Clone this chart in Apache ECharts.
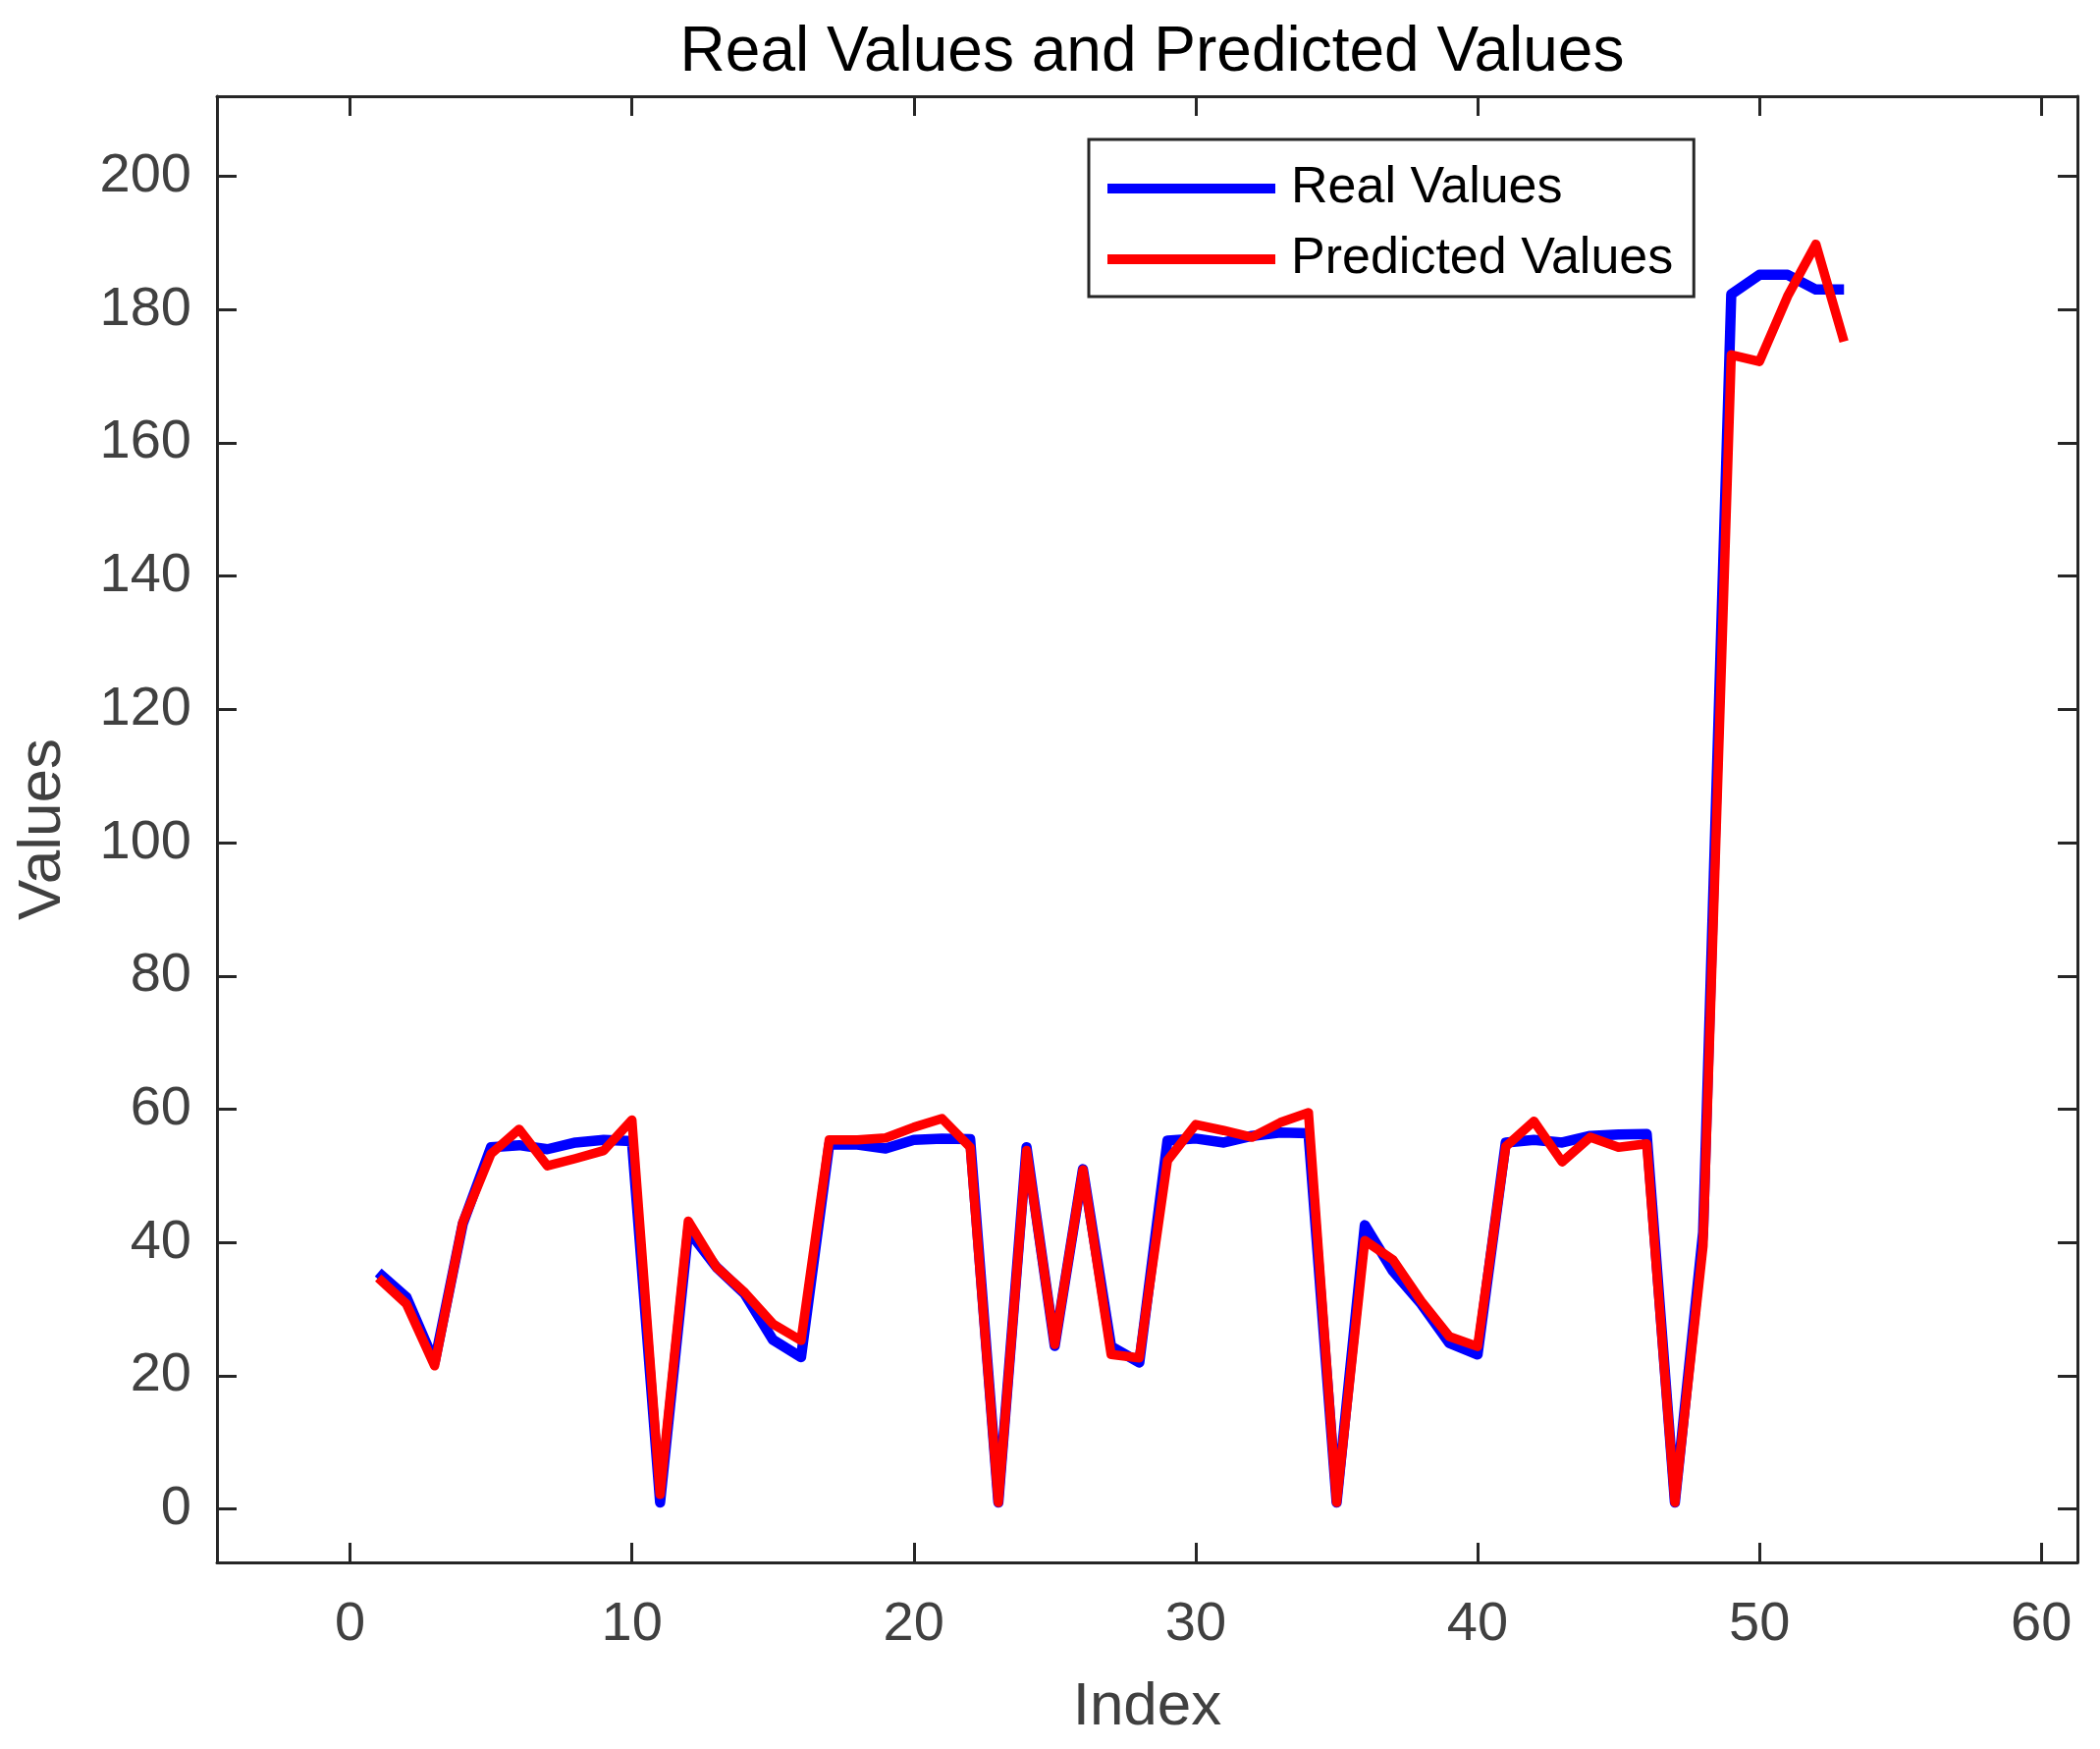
<!DOCTYPE html>
<html>
<head>
<meta charset="utf-8">
<script src="https://cdn.jsdelivr.net/npm/echarts@6/dist/echarts.min.js"></script>
<style>
html,body{margin:0;padding:0;background:#fff;}
#chart{width:2139px;height:1781px;}
</style>
</head>
<body>
<div id="chart"></div>
<script>
var indices = [1,2,3,4,5,6,7,8,9,10,11,12,13,14,15,16,17,18,19,20,21,22,23,24,25,26,27,28,29,30,31,32,33,34,35,36,37,38,39,40,41,42,43,44,45,46,47,48,49,50,51,52,53];
var realValues = [35.5,31.8,22.0,42.8,54.3,54.6,54.0,55.0,55.4,55.2,1.0,41.8,36.3,32.3,25.4,22.8,54.7,54.7,54.1,55.4,55.6,55.5,1.0,54.3,24.5,51.0,24.4,22.0,55.3,55.6,55.0,56.0,56.5,56.4,1.0,42.6,35.7,30.8,24.9,23.2,55.0,55.4,55.0,56.0,56.2,56.3,1.0,41.5,182.3,185.2,185.2,183.0,183.0];
var predictedValues = [34.7,30.8,21.5,43.0,53.3,57.0,51.5,52.6,53.8,58.4,2.2,43.2,36.3,32.5,27.8,25.3,55.4,55.4,55.7,57.3,58.6,54.3,1.0,53.8,24.7,50.9,23.2,22.7,52.3,57.7,56.8,55.8,58.0,59.5,1.0,40.3,37.4,31.2,25.9,24.4,54.4,58.2,52.1,55.8,54.3,54.8,1.0,39.5,173.2,172.2,182.0,189.8,175.2];
var xTicks = [0,10,20,30,40,50,60];
var yTicks = [0,20,40,60,80,100,120,140,160,180,200];
var seriesNames = ['Real Values','Predicted Values'];
var titleText = 'Real Values and Predicted Values';
var xName = 'Index';
var yName = 'Values';

var FONT = '"Liberation Sans", Arial, Helvetica, sans-serif';
var AXC = '#262626';
var TXC = '#404040';
var XMIN = -4.72, XMAX = 61.28, YMIN = -8, YMAX = 212;

function pairs(vals){ return indices.map(function(x,i){ return [x, vals[i]]; }); }

var chart = echarts.init(document.getElementById('chart'), null, {renderer:'canvas'});
var tickStyle = {show:true, inside:true, length:20, lineStyle:{color:AXC, width:3}};
chart.setOption({
  animation:false,
  backgroundColor:'#fff',
  title:{
    text:titleText, left:1168.5, top:17, textAlign:'center',
    textStyle:{fontFamily:FONT, fontSize:64, fontWeight:'normal', color:'#000', lineHeight:64}
  },
  legend:{
    orient:'vertical', left:1109, top:142,
    padding:[24,21,12,19], itemGap:20,
    itemWidth:171, itemHeight:10, icon:'rect',
    borderColor:AXC, borderWidth:3, backgroundColor:'#fff',
    textStyle:{fontFamily:FONT, fontSize:52, color:'#000', padding:[0,0,0,11], lineHeight:52},
    data:seriesNames
  },
  grid:{left:221, right:23, top:98, bottom:190, containLabel:false},
  xAxis:[{
    type:'value', min:XMIN, max:XMAX, position:'bottom',
    name:xName, nameLocation:'middle', nameGap:117,
    nameTextStyle:{fontFamily:FONT, fontSize:62, color:TXC},
    axisLine:{show:true, onZero:false, lineStyle:{color:AXC, width:3}},
    axisTick:Object.assign({customValues:xTicks}, tickStyle),
    axisLabel:{customValues:xTicks, margin:36, fontFamily:FONT, fontSize:56, color:TXC},
    splitLine:{show:false}
  },{
    type:'value', min:XMIN, max:XMAX, position:'top',
    axisLine:{show:true, onZero:false, lineStyle:{color:AXC, width:3}},
    axisTick:Object.assign({customValues:xTicks}, tickStyle),
    axisLabel:{show:false, customValues:xTicks},
    splitLine:{show:false}
  }],
  yAxis:[{
    type:'value', min:YMIN, max:YMAX, position:'left',
    name:yName, nameLocation:'middle', nameGap:146, nameRotate:90,
    nameTextStyle:{fontFamily:FONT, fontSize:62, color:TXC},
    axisLine:{show:true, onZero:false, lineStyle:{color:AXC, width:3}},
    axisTick:Object.assign({customValues:yTicks}, tickStyle),
    axisLabel:{customValues:yTicks, margin:26, fontFamily:FONT, fontSize:56, color:TXC},
    splitLine:{show:false}
  },{
    type:'value', min:YMIN, max:YMAX, position:'right',
    axisLine:{show:true, onZero:false, lineStyle:{color:AXC, width:3}},
    axisTick:Object.assign({customValues:yTicks}, tickStyle),
    axisLabel:{show:false, customValues:yTicks},
    splitLine:{show:false}
  }],
  series:[{
    name:seriesNames[0], type:'line', xAxisIndex:0, yAxisIndex:0,
    data:pairs(realValues), showSymbol:false, symbol:'none',
    color:'#0000ff',
    lineStyle:{color:'#0000ff', width:10.5, join:'round'}
  },{
    name:seriesNames[1], type:'line', xAxisIndex:0, yAxisIndex:0,
    data:pairs(predictedValues), showSymbol:false, symbol:'none',
    color:'#ff0000',
    lineStyle:{color:'#ff0000', width:9.5, join:'round'}
  }]
});
</script>
</body>
</html>
